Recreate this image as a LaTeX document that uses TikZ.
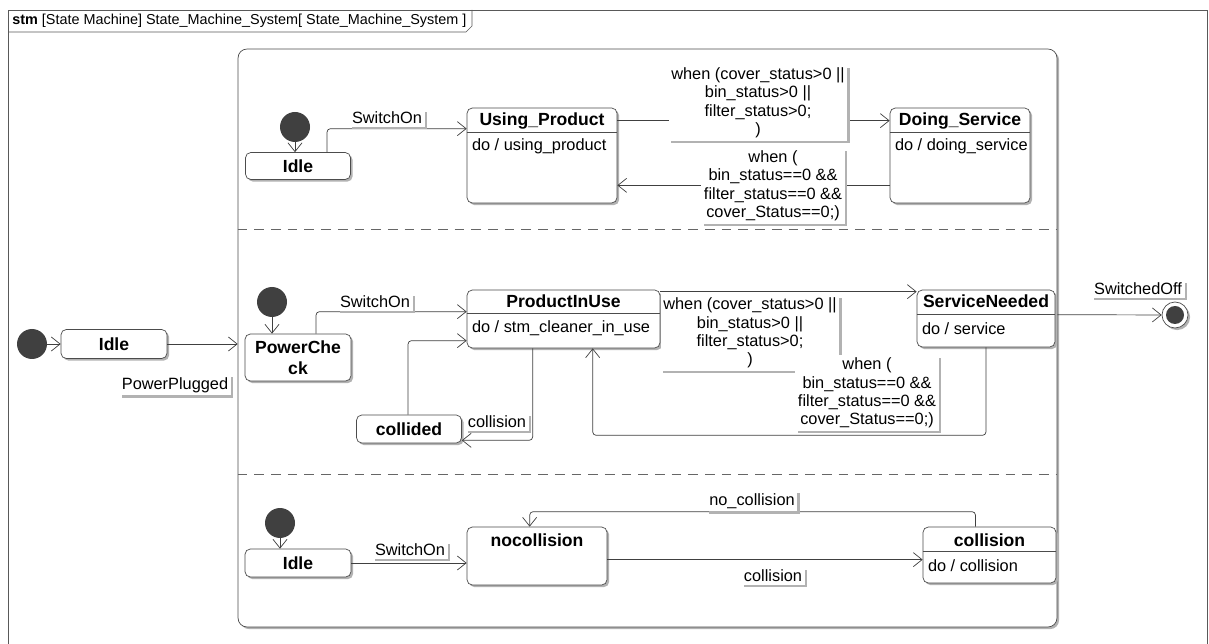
\documentclass[tikz,border=0pt]{standalone}
\usepackage{fontspec}
\setmainfont{Liberation Sans}
\usepackage{tikz}
\usetikzlibrary{shapes,arrows.meta,calc,shadows}
\tikzstyle{state} = [rectangle, draw=black!70, fill=white, rounded corners=3pt,
    inner sep=0pt, drop shadow={shadow xshift=1.2pt, shadow yshift=-1.2pt, fill=black!30, opacity=1}]
\tikzstyle{statename} = [font=\bfseries, inner sep=0pt]
\tikzstyle{doact} = [anchor=west, inner sep=0pt]
\tikzstyle{compart} = [draw=black!70]
\tikzstyle{initial} = [circle, fill=black!75, minimum size=0.6cm, inner sep=0pt]
\tikzstyle{lbl} = [fill=white, inner sep=1.5pt, align=center,
    drop shadow={shadow xshift=1.4pt, shadow yshift=-1.4pt, fill=black!30, opacity=1}]
\tikzstyle{line} = [draw=black!75, rounded corners=2pt, -{Straight Barb[length=5pt,width=8pt]}]
\tikzstyle{frame} = [draw=black!65]
\tikzstyle{region} = [draw=black!60, dash pattern=on 5.5pt off 4pt]

\begin{document}
\begin{tikzpicture}[x=0.02cm, y=-0.02cm, font=\fontsize{9.3}{10.5}\selectfont]
        \useasboundingbox (0,0) rectangle (1209,644);
        % Frame and composite state
        \draw[frame] (8,644) -- (8,10) -- (1207,10) -- (1207,644);
        \draw[frame] (8,32) -- (466,32) -- (472,26) -- (472,10);
        \node[anchor=west, inner sep=0pt, font=\fontsize{8.2}{10}\selectfont] (title) at (12,21) {\textbf{stm} [State Machine] State\_Machine\_System[ State\_Machine\_System ]};
        \node [state, rounded corners=5pt, minimum width=16.38cm, minimum height=11.56cm] (sys) at (647.5,338) {};
        \draw[region] ($(sys.north west)+(0,181)$) -- ($(sys.north east)+(0,181)$);
        \draw[region] ($(sys.north west)+(0,426)$) -- ($(sys.north east)+(0,426)$);
        % Outer level
        \node [initial] (init0) at (32,344) {};
        \node [state, minimum width=2.12cm, minimum height=0.58cm, font=\bfseries] (idle0) at (114,344) {Idle};
        \node [state, minimum width=0.52cm, minimum height=0.52cm, circle, rounded corners=0pt] (final) at (1175,315) {};
        \node [circle, fill=black!75, minimum size=0.36cm, inner sep=0pt] (finaldot) at (final) {};
        % Region 1
        \node [initial] (init1) at (295,127) {};
        \node [state, minimum width=2.1cm, minimum height=0.54cm, font=\bfseries] (idle1) at (298,166) {Idle};
        \node [state, minimum width=3cm, minimum height=1.9cm] (usep) at (542,155.5) {};
        \node [statename] (usepname) at ($(usep.north)+(0,13)$) {Using\_Product};
        \draw[compart] ($(usep.north west)+(0,25)$) -- ($(usep.north east)+(0,25)$);
        \node [doact] (usepdo) at ($(usep.north west)+(5,39)$) {do / using\_product};
        \node [state, minimum width=2.8cm, minimum height=1.9cm] (doing) at (960,155.5) {};
        \node [statename] (doingname) at ($(doing.north)+(0,13)$) {Doing\_Service};
        \draw[compart] ($(doing.north west)+(0,25)$) -- ($(doing.north east)+(0,25)$);
        \node [doact] (doingdo) at ($(doing.north west)+(5,39)$) {do / doing\_service};
        % Region 2
        \node [initial] (init2) at (272,302) {};
        \node [state, minimum width=2.12cm, minimum height=0.94cm, font=\bfseries, align=center] (pcheck) at (298,357.5) {PowerChe\\ck};
        \node [state, minimum width=3.86cm, minimum height=1.16cm] (inuse) at (563.5,319) {};
        \node [statename] (inusename) at ($(inuse.north)+(0,12)$) {ProductInUse};
        \draw[compart] ($(inuse.north west)+(0,24)$) -- ($(inuse.north east)+(0,24)$);
        \node [doact] (inusedo) at ($(inuse.north west)+(5,39)$) {do / stm\_cleaner\_in\_use};
        \node [state, minimum width=2.1cm, minimum height=0.56cm, font=\bfseries] (collided) at (409,429) {collided};
        \node [state, minimum width=2.76cm, minimum height=1.14cm] (service) at (986,318.5) {};
        \node [statename] (servicename) at ($(service.north)+(0,12)$) {ServiceNeeded};
        \draw[compart] ($(service.north west)+(0,25)$) -- ($(service.north east)+(0,25)$);
        \node [doact] (servicedo) at ($(service.north west)+(5,39)$) {do / service};
        % Region 3
        \node [initial] (init3) at (280,523) {};
        \node [state, minimum width=2.12cm, minimum height=0.56cm, font=\bfseries] (idle3) at (298,563) {Idle};
        \node [state, minimum width=2.8cm, minimum height=1.16cm] (nocol) at (537,556) {};
        \node [statename] (nocolname) at ($(nocol.north)+(0,14)$) {nocollision};
        \node [state, minimum width=2.66cm, minimum height=1.12cm] (collision) at (989.5,555) {};
        \node [statename] (collisionname) at ($(collision.north)+(0,14)$) {collision};
        \draw[compart] ($(collision.north west)+(0,25)$) -- ($(collision.north east)+(0,25)$);
        \node [doact] (collisiondo) at ($(collision.north west)+(5,39)$) {do / collision};
        % Draw edges
        \path [line] (init0) -- (idle0);
        \path [line] (idle0.east) -- (idle0.east -| sys.west);
        \path [line] ($(sys.north east)+(0,266)$) -- (final);
        \path [line] (init1) -- (init1 |- idle1.north);
        \path [line] ($(idle1.north)+(29,0)$) |- ($(usep.north west)+(0,21)$);
        \path [line] ($(usep.north east)+(0,13)$) -- ($(doing.north west)+(0,13)$);
        \path [line] ($(doing.south west)+(0,-18)$) -- ($(usep.south east)+(0,-18)$);
        \path [line] (init2) -- (init2 |- pcheck.north);
        \path [line] ($(pcheck.north)+(18,0)$) |- ($(inuse.north west)+(0,22)$);
        \path [line] ($(collided.north)+(-1,0)$) |- ($(inuse.north west)+(0,51)$);
        \path [line] ($(inuse.south west)+(66,0)$) |- ($(collided.south east)+(0,-3)$);
        \path [line] ($(inuse.north east)+(0,2)$) -- ($(service.north west)+(0,2)$);
        \path [line] (service.south) |- ($(inuse.south west)+(126,87)$) -- ($(inuse.south west)+(126,0)$);
        \path [line] (init3) -- (init3 |- idle3.north);
        \path [line] (idle3.east) -- (idle3.east -| nocol.west);
        \path [line] ($(nocol.north east)+(0,33)$) -- ($(collision.north west)+(0,33)$);
        \path [line] ($(collision.north)+(-14,0)$) |- ($(nocol.north west)+(63,-15)$) -- ($(nocol.north west)+(63,0)$);
        % Labels
        \node [lbl] (lpower) at (175,385) {PowerPlugged};
        \node [lbl] (loff) at (1138,289) {SwitchedOff};
        \node [lbl] (lon1) at (387,118) {SwitchOn};
        \node [lbl] (lcover1) at (758,103) {when (cover\_status>0 ||\\bin\_status>0 ||\\filter\_status>0;\\)};
        \node [lbl] (lzero1) at (773,186) {when (\\bin\_status==0 \&\&\\filter\_status==0 \&\&\\cover\_Status==0;)};
        \node [lbl] (lon2) at (375,302) {SwitchOn};
        \node [lbl] (lcoll2) at (497,422) {collision};
        \node [lbl] (lcover2) at (750,333) {when (cover\_status>0 ||\\bin\_status>0 ||\\filter\_status>0;\\)};
        \node [lbl] (lzero2) at (867,393) {when (\\bin\_status==0 \&\&\\filter\_status==0 \&\&\\cover\_Status==0;)};
        \node [lbl] (lon3) at (410,550) {SwitchOn};
        \node [lbl] (lcoll3) at (773,576) {collision};
        \node [lbl] (lnocoll) at (752,501) {no\_collision};
    \end{tikzpicture}
\end{document}
